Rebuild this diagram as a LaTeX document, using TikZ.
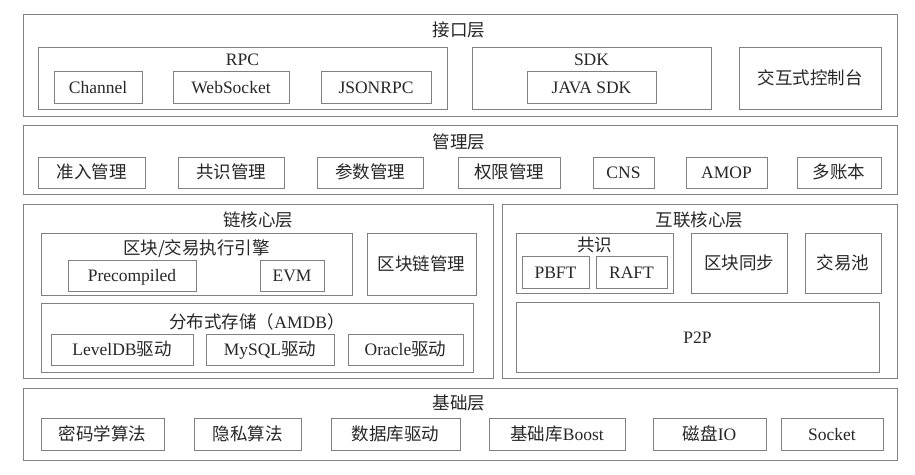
\documentclass[tikz,border=0pt]{standalone}
\usepackage{fontspec}
\setmainfont{Liberation Serif}
\newfontfamily\cjk{Noto Sans CJK SC}
\tikzset{
  box/.style={draw=black!50, line width=0.9pt, inner sep=0pt, outer sep=0pt, text=black!85, text height=14.4pt, text depth=2.2pt},
  ttl/.style={inner sep=0pt, text=black!85, text height=14.4pt, text depth=2.2pt},
}
\newcommand\bx[6]{\node[box, minimum width={#4-#2}, minimum height={#5-#3}] (#1) at ({(#2+#4)/2},{(#3+#5)/2}) {#6};}
\newcommand\tl[4]{\node[ttl] (#1) at (#2,#3) {#4};}
\begin{document}
\begin{tikzpicture}[x=1pt,y=-1pt,font=\fontsize{17.5}{20}\selectfont]
\useasboundingbox (0,0) rectangle (915,474);
% interface layer
\bx{L1}{23}{14}{897}{116}{}
\tl{L1t}{459}{30}{\cjk 接口层}
\bx{rpc}{38}{47}{447}{109}{}
\tl{rpct}{242.5}{59}{RPC}
\bx{chan}{54}{71}{142}{103}{Channel}
\bx{ws}{173}{71}{289}{103}{WebSocket}
\bx{json}{321}{71}{431}{103}{JSONRPC}
\bx{sdk}{472}{47}{711}{109}{}
\tl{sdkt}{591.5}{59}{SDK}
\bx{jsdk}{527}{71}{656}{103}{JAVA SDK}
\bx{cons}{739}{47}{881}{109}{\cjk 交互式控制台}
% management layer
\bx{L2}{23}{125}{897}{194}{}
\tl{L2t}{459}{142}{\cjk 管理层}
\bx{m1}{38}{157}{145}{188}{\cjk 准入管理}
\bx{m2}{178}{157}{284}{188}{\cjk 共识管理}
\bx{m3}{317}{157}{423}{188}{\cjk 参数管理}
\bx{m4}{458}{157}{560}{188}{\cjk 权限管理}
\bx{m5}{593}{157}{654}{188}{CNS}
\bx{m6}{686}{157}{767}{188}{AMOP}
\bx{m7}{797}{157}{881}{188}{\cjk 多账本}
% chain core layer
\bx{L3}{23}{204}{493}{378}{}
\tl{L3t}{258}{220}{\cjk 链核心层}
\bx{exe}{41}{233}{352}{295}{}
\tl{exet}{196.5}{248}{\cjk 区块/交易执行引擎}
\bx{pre}{68}{260}{196}{291}{Precompiled}
\bx{evm}{260}{260}{324}{291}{EVM}
\bx{bcm}{367}{233}{476}{295}{\cjk 区块链管理}
\bx{amdb}{41}{303}{473}{372}{}
\tl{amdbt}{257}{322}{{\cjk 分布式存储（}AMDB{\cjk ）}}
\bx{lvl}{51}{334}{193}{365}{LevelDB{\cjk 驱动}}
\bx{mys}{206}{334}{334}{365}{MySQL{\cjk 驱动}}
\bx{orc}{348}{334}{463}{365}{Oracle{\cjk 驱动}}
% interconnect core layer
\bx{L4}{502}{204}{897}{378}{}
\tl{L4t}{699.5}{220}{\cjk 互联核心层}
\bx{gs}{516}{233}{673}{293}{}
\tl{gst}{594.5}{245}{\cjk 共识}
\bx{pbft}{522}{256}{589}{288}{PBFT}
\bx{raft}{596}{256}{667}{288}{RAFT}
\bx{sync}{691}{233}{787}{293}{\cjk 区块同步}
\bx{pool}{805}{233}{881}{293}{\cjk 交易池}
\bx{p2p}{516}{302}{879}{372}{P2P}
% base layer
\bx{L5}{23}{388}{897}{460}{}
\tl{L5t}{459}{403}{\cjk 基础层}
\bx{b1}{41}{418}{164}{450}{\cjk 密码学算法}
\bx{b2}{194}{418}{301}{450}{\cjk 隐私算法}
\bx{b3}{331}{418}{460}{450}{\cjk 数据库驱动}
\bx{b4}{489}{418}{625}{450}{{\cjk 基础库}Boost}
\bx{b5}{653}{418}{766}{450}{{\cjk 磁盘}IO}
\bx{b6}{781}{418}{883}{450}{Socket}
\end{tikzpicture}
\end{document}
